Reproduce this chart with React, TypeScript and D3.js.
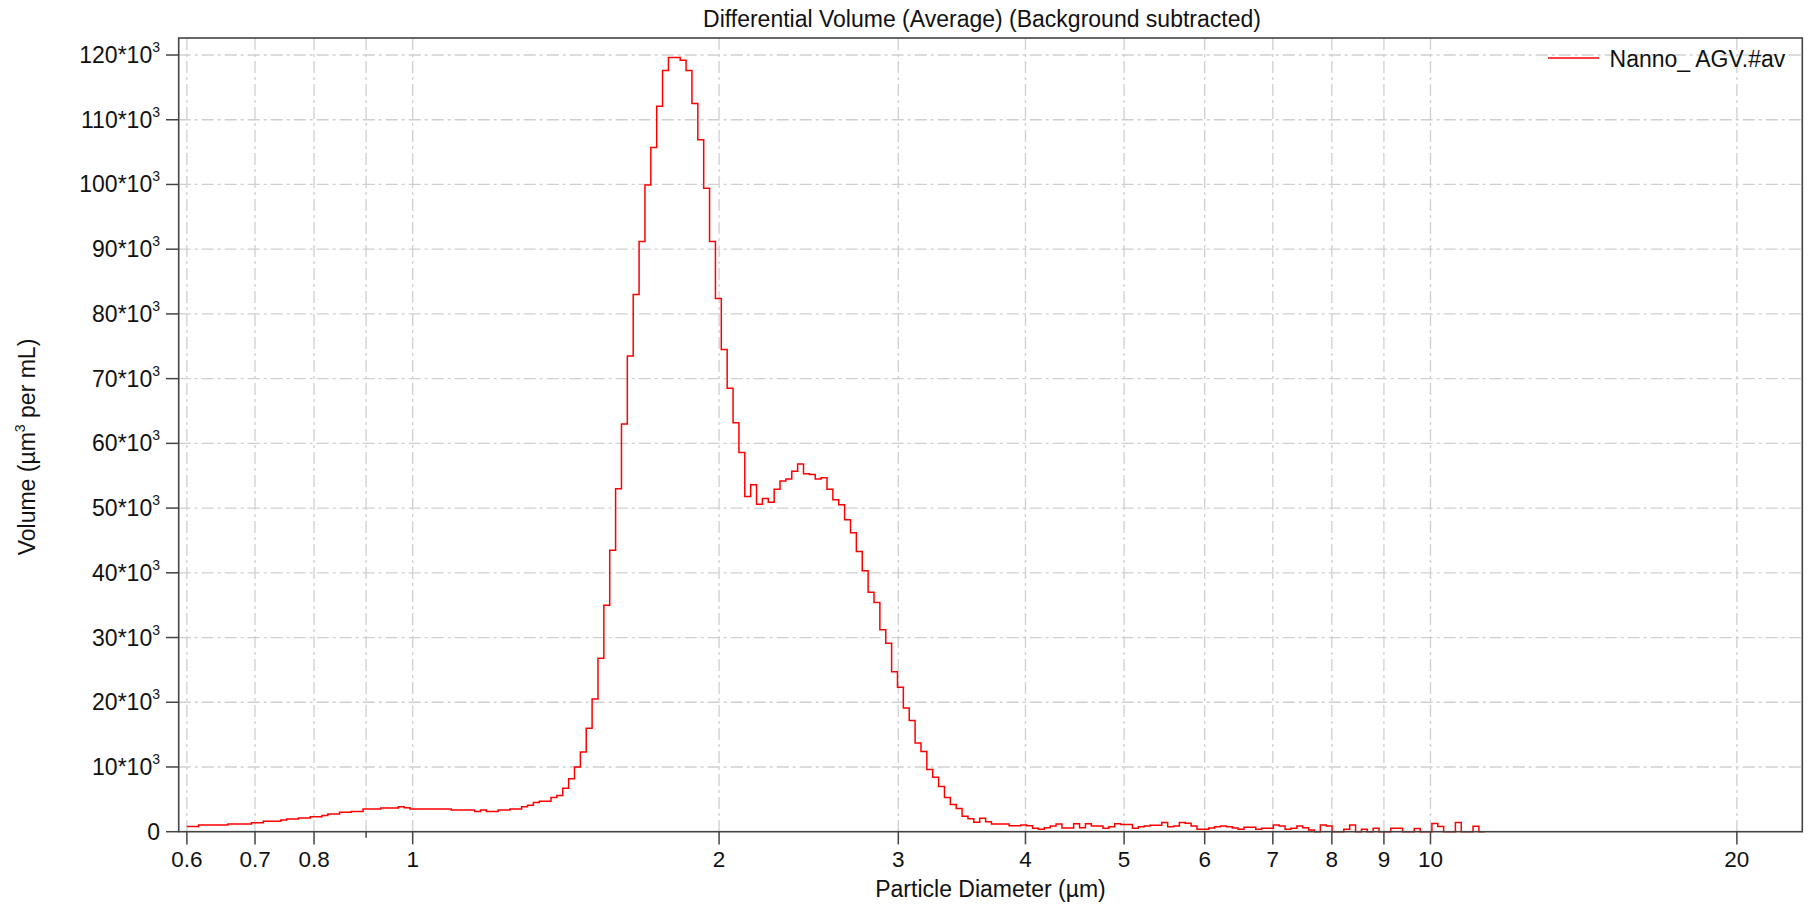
import { useRef, useEffect } from "react";
import * as d3 from "d3";

// instrument channels: log spaced, 256 channels from 0.6 to 18 µm
const binStart = 0.6;
const binEnd = 18;
const binCount = 256;

// differential volume per channel (µm³ per mL), channel 0 starts at 0.6 µm
const volume = [
  820, 820, 1030, 1030, 1030, 1030, 1030, 1180, 1180, 1180,
  1180, 1390, 1390, 1600, 1600, 1600, 1800, 1960, 1960, 2110,
  2110, 2320, 2320, 2520, 2730, 2730, 2990, 2990, 3140, 3140,
  3500, 3500, 3500, 3660, 3660, 3660, 3860, 3700, 3500, 3500,
  3500, 3500, 3500, 3500, 3500, 3350, 3350, 3350, 3350, 3140,
  3350, 3140, 3140, 3350, 3350, 3500, 3500, 3860, 4100, 4500,
  4700, 4700, 5300, 5600, 6700, 8200, 10000, 12300, 16000, 20500,
  26800, 35000, 43500, 53000, 63000, 73500, 83000, 91200, 99900, 105700,
  112100, 117600, 119600, 119600, 119200, 117600, 112500, 106900, 99400, 91200,
  82400, 74500, 68500, 63200, 58600, 51800, 53600, 50600, 51500, 50900,
  52900, 54200, 54500, 55700, 56800, 55300, 55200, 54500, 54700, 52900,
  51300, 50500, 48200, 46200, 43300, 40300, 37000, 35400, 31200, 29100,
  24700, 22300, 19100, 17200, 13700, 12400, 9600, 8400, 7000, 5300,
  4200, 3600, 2400, 2000, 1450, 2060, 1550, 1180, 1180, 1180,
  930, 930, 1030, 930, 520, 360, 620, 880, 1180, 570,
  570, 1240, 620, 1240, 880, 880, 520, 770, 1240, 1130,
  1130, 520, 770, 880, 980, 980, 1440, 770, 880, 1440,
  1290, 880, 360, 360, 570, 770, 880, 770, 570, 360,
  670, 670, 360, 520, 520, 1030, 880, 360, 520, 880,
  620, 260, 0, 1030, 880, 0, 0, 360, 1050, 0,
  360, 0, 520, 0, 0, 520, 520, 0, 0, 480,
  0, 0, 1250, 800, 0, 0, 1440, 0, 0, 850,
  0,
];

const xTicks = [0.6, 0.7, 0.8, 0.9, 1, 2, 3, 4, 5, 6, 7, 8, 9, 10, 20];
const xTickLabels = ["0.6", "0.7", "0.8", "", "1", "2", "3", "4", "5", "6", "7", "8", "9", "10", "20"];
const yTicks = [0, 10000, 20000, 30000, 40000, 50000, 60000, 70000, 80000, 90000, 100000, 110000, 120000];
const seriesName = "Nanno_ AGV.#av";
const chartTitle = "Differential Volume (Average) (Background subtracted)";
const xTitle = "Particle Diameter (µm)";

export default function App() {
  const ref = useRef<SVGSVGElement>(null);

  function init() {
    document.body.style.margin = "0";
    const svg = d3.select(ref.current);
    svg.selectAll("*").remove();

    const m = { left: 178.7, right: 1802.3, top: 38, bottom: 831.7 };
    const font = "'Liberation Sans', Arial, sans-serif";
    const axisColor = "#444";

    const x = d3.scaleLog().domain([0.589, 23.19]).range([m.left, m.right]);
    const y = d3.scaleLinear().domain([0, 122630]).range([m.bottom, m.top]);

    // Grid
    const grid = svg.append("g").attr("stroke", "#cfcfcf").attr("stroke-width", 1.3)
      .attr("stroke-dasharray", "12,4,3,4");
    grid.selectAll(".gx").data(xTicks).join("line")
      .attr("x1", (d) => x(d)).attr("x2", (d) => x(d))
      .attr("y1", m.top).attr("y2", m.bottom);
    grid.selectAll(".gy").data(yTicks.slice(1)).join("line")
      .attr("x1", m.left).attr("x2", m.right)
      .attr("y1", (d) => y(d)).attr("y2", (d) => y(d));

    // Data
    const edges = d3.range(volume.length + 1).map((i) => binStart * Math.pow(binEnd / binStart, i / binCount));
    const pts: [number, number][] = volume.map((v, i) => [edges[i], v]);
    pts.push([edges[volume.length], volume[volume.length - 1]]);
    const line = d3.line<[number, number]>()
      .x((d) => x(d[0]))
      .y((d) => y(d[1]))
      .curve(d3.curveStepAfter);
    svg.append("path").datum(pts)
      .attr("d", line)
      .attr("fill", "none")
      .attr("stroke", "#ff0000")
      .attr("stroke-width", 1.5);

    // Frame
    svg.append("rect")
      .attr("x", m.left).attr("y", m.top)
      .attr("width", m.right - m.left).attr("height", m.bottom - m.top)
      .attr("fill", "none").attr("stroke", axisColor).attr("stroke-width", 1.6);

    // X ticks
    svg.selectAll(".xt").data(xTicks).join("line")
      .attr("x1", (d) => x(d)).attr("x2", (d) => x(d))
      .attr("y1", m.bottom).attr("y2", (d, i) => m.bottom + (xTickLabels[i] ? 12.7 : 6))
      .attr("stroke", axisColor).attr("stroke-width", 1.5);
    svg.selectAll(".xl").data(xTicks).join("text")
      .attr("x", (d) => x(d)).attr("y", 867)
      .attr("text-anchor", "middle")
      .attr("font-family", font).attr("font-size", 22.5).attr("fill", "#111")
      .text((d, i) => xTickLabels[i]);

    // Y ticks
    svg.selectAll(".yt").data(yTicks).join("line")
      .attr("x1", m.left - 12.7).attr("x2", m.left)
      .attr("y1", (d) => y(d)).attr("y2", (d) => y(d))
      .attr("stroke", axisColor).attr("stroke-width", 1.5);
    const yl = svg.selectAll(".yl").data(yTicks).join("text")
      .attr("x", 160).attr("y", (d) => y(d) + 8)
      .attr("text-anchor", "end")
      .attr("font-family", font).attr("font-size", 23).attr("fill", "#111");
    yl.each(function (d) {
      const t = d3.select(this);
      if (d === 0) {
        t.text("0");
        return;
      }
      t.append("tspan").text(`${d / 1000}*10`);
      t.append("tspan").attr("dy", -11).attr("font-size", 14).text("3");
    });

    // Titles
    svg.append("text")
      .attr("x", 982).attr("y", 27)
      .attr("text-anchor", "middle")
      .attr("font-family", font).attr("font-size", 23).attr("fill", "#111")
      .text(chartTitle);
    svg.append("text")
      .attr("x", (m.left + m.right) / 2).attr("y", 897)
      .attr("text-anchor", "middle")
      .attr("font-family", font).attr("font-size", 23).attr("fill", "#111")
      .text(xTitle);
    const yt = svg.append("text")
      .attr("transform", `translate(35, 447) rotate(-90)`)
      .attr("text-anchor", "middle")
      .attr("font-family", font).attr("font-size", 23).attr("fill", "#111");
    yt.append("tspan").text("Volume (µm");
    yt.append("tspan").attr("dy", -10).attr("font-size", 14).text("3");
    yt.append("tspan").attr("dy", 10).text(" per mL)");

    // Legend
    svg.append("line")
      .attr("x1", 1548).attr("x2", 1599).attr("y1", 58).attr("y2", 58)
      .attr("stroke", "#ff0000").attr("stroke-width", 1.5);
    svg.append("text")
      .attr("x", 1609.6).attr("y", 66.5)
      .attr("font-family", font).attr("font-size", 23).attr("fill", "#111")
      .text(seriesName);
  }

  useEffect(init, []);

  return <svg ref={ref} width={1810} height={904} style={{ display: "block", background: "#fff" }} />;
}
